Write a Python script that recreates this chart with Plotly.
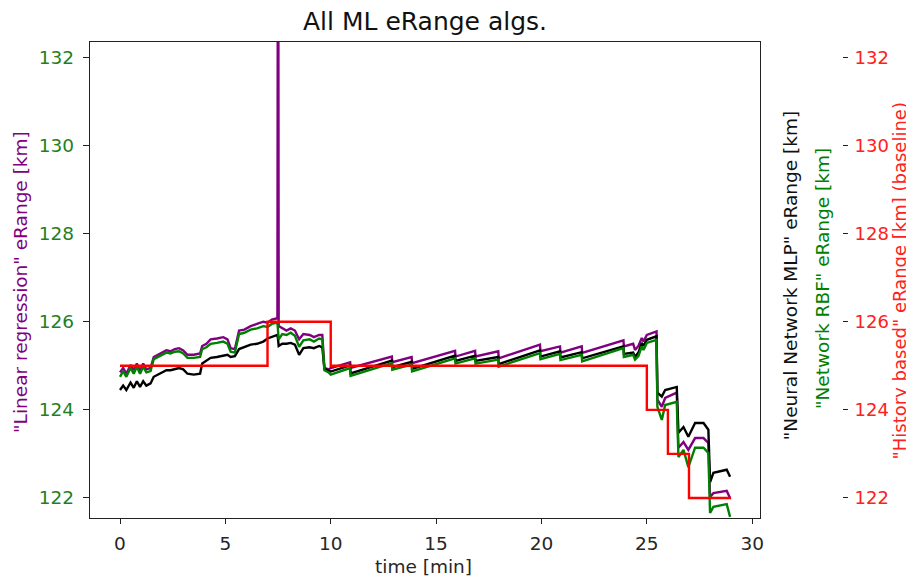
import plotly.graph_objects as go

# ---- data ----
time_ml = [0, 0.15, 0.3, 0.5, 0.65, 0.8, 0.95, 1.1, 1.25, 1.45,
           1.6, 1.8, 2.0, 2.2, 2.4, 2.6, 2.8, 3.0, 3.2, 3.5,
           3.8, 3.9, 4.1, 4.3, 4.6, 4.9, 5.1, 5.25, 5.45, 5.65,
           5.9, 6.2, 6.5, 6.8, 7.0, 7.2, 7.47, 7.5, 7.53, 7.7,
           7.9, 8.1, 8.3, 8.5, 8.7, 9.0, 9.2, 9.45, 9.6, 9.7,
           9.9, 10.0,
           10.92, 10.94, 12.9, 12.92, 13.84, 13.86, 15.9, 15.92, 16.85, 16.87,
           17.95, 17.97, 19.93, 19.95, 20.88, 20.9, 21.91, 21.93, 23.89, 23.91,
           24.35, 24.44, 24.6, 24.76, 24.84, 25.0, 25.46, 25.5, 25.71, 25.87,
           26.42, 26.5, 26.74, 26.97, 27.29, 27.69, 27.92, 28.0, 28.16, 28.79,
           28.95]

linear_regression = [124.85, 124.95, 124.82, 125.02, 124.9, 125.05, 124.88, 125.05, 124.92, 124.95,
                     125.2, 125.25, 125.3, 125.35, 125.33, 125.38, 125.4, 125.35, 125.25, 125.25,
                     125.28, 125.45, 125.5, 125.6, 125.62, 125.65, 125.6, 125.4, 125.38, 125.8,
                     125.82, 125.9, 125.95, 126.0, 125.98, 126.05, 126.08, 140.0, 125.9, 125.85,
                     125.8, 125.85, 125.8, 125.6, 125.72, 125.7, 125.65, 125.7, 125.7, 124.95,
                     124.92, 124.95,
                     125.08, 124.95, 125.21, 125.08, 125.2, 125.06, 125.34, 125.21, 125.34, 125.21,
                     125.33, 125.17, 125.48, 125.33, 125.44, 125.3, 125.44, 125.29, 125.58, 125.44,
                     125.5, 125.36, 125.45, 125.63, 125.55, 125.7, 125.78, 124.23, 124.07, 124.27,
                     124.39, 123.14, 123.27, 123.09, 123.36, 123.36, 123.25, 122.02, 122.11, 122.16,
                     122.0]

network_rbf = [124.75, 124.88, 124.75, 124.95, 124.82, 124.98, 124.82, 124.98, 124.85, 124.88,
               125.15, 125.2, 125.25, 125.3, 125.28, 125.32, 125.33, 125.28, 125.18, 125.18,
               125.2, 125.38, 125.42, 125.5, 125.52, 125.55, 125.5, 125.32, 125.3, 125.72,
               125.75, 125.82, 125.85, 125.9, 125.88, 125.95, 125.98, 125.8, 125.6, 125.72,
               125.7, 125.75, 125.68, 125.43, 125.58, 125.6, 125.55, 125.62, 125.6, 124.9,
               124.85, 124.8,
               124.95, 124.77, 125.06, 124.91, 125.03, 124.87, 125.17, 125.05, 125.17, 125.05,
               125.14, 124.98, 125.29, 125.15, 125.27, 125.13, 125.25, 125.1, 125.4, 125.2,
               125.25, 125.14, 125.22, 125.44, 125.36, 125.52, 125.59, 124.07, 123.77, 124.11,
               124.18, 122.93, 123.09, 122.7, 123.14, 123.14, 123.02, 121.66, 121.8, 121.86,
               121.57]

neural_mlp = [124.45, 124.55, 124.45, 124.62, 124.5, 124.65, 124.52, 124.65, 124.55, 124.6,
              124.75, 124.8, 124.85, 124.9, 124.9, 124.93, 124.95, 124.92, 124.82, 124.8,
              124.82, 125.05, 125.12, 125.18, 125.2, 125.22, 125.25, 125.2, 125.22, 125.38,
              125.42, 125.48, 125.5, 125.55, 125.62, 125.66, 125.7, 125.6, 125.45, 125.5,
              125.5, 125.52, 125.48, 125.25, 125.4, 125.42, 125.4, 125.45, 125.42, 124.93,
              124.9, 124.87,
              125.01, 124.83, 125.12, 124.97, 125.09, 124.93, 125.23, 125.11, 125.23, 125.11,
              125.2, 125.04, 125.35, 125.21, 125.33, 125.19, 125.31, 125.17, 125.44, 125.27,
              125.3, 125.2, 125.3, 125.52, 125.45, 125.59, 125.67, 124.39, 124.3, 124.45,
              124.52, 123.48, 123.61, 123.39, 123.7, 123.7, 123.55, 122.36, 122.57, 122.64,
              122.48]

time_history = [0, 1, 2, 3, 4, 5, 6, 7, 8, 9,
                10, 11, 12, 13, 14, 15, 16, 17, 18, 19,
                20, 21, 22, 23, 24, 25, 26, 27, 28, 29]
history_based = [125, 125, 125, 125, 125, 125, 125, 126, 126, 126,
                 125, 125, 125, 125, 125, 125, 125, 125, 125, 125,
                 125, 125, 125, 125, 125, 124, 123, 122, 122, 122]

x_ticks = [0, 5, 10, 15, 20, 25, 30]
y_ticks = [122, 124, 126, 128, 130, 132]

assert len(time_ml) == len(linear_regression) == len(network_rbf) == len(neural_mlp)
assert len(time_history) == len(history_based)

# ---- figure ----
FONT = "DejaVu Sans"
LW = 2.4
fig = go.Figure()
fig.add_trace(go.Scatter(x=time_ml, y=linear_regression, mode="lines",
                         line=dict(color="#800080", width=LW), yaxis="y"))
fig.add_trace(go.Scatter(x=time_ml, y=neural_mlp, mode="lines",
                         line=dict(color="#000000", width=LW), yaxis="y"))
fig.add_trace(go.Scatter(x=time_ml, y=network_rbf, mode="lines",
                         line=dict(color="#008000", width=LW), yaxis="y"))
fig.add_trace(go.Scatter(x=time_history, y=history_based, mode="lines",
                         line=dict(color="#ff0000", width=LW, shape="hv"), yaxis="y2"))

yrange = [121.545, 132.35]
# the page body adds an 8px offset, so the figure is 8px smaller and shifted
fig.update_layout(
    width=906, height=571,
    margin=dict(l=82, r=72, t=34, b=61, autoexpand=False),
    plot_bgcolor="white", paper_bgcolor="white",
    showlegend=False,
    font=dict(family=FONT, size=18.5, color="#262626"),
    xaxis=dict(domain=[0, 670 / 752], range=[-1.424, 30.37], automargin=False,
               tickvals=x_ticks, ticks="outside", ticklen=5, tickwidth=1.2,
               tickcolor="#222", showline=True, linecolor="#222", linewidth=1.3,
               mirror=True, showgrid=False, zeroline=False,
               tickfont=dict(size=18.5, color="#262626"), ticklabelstandoff=4),
    yaxis=dict(range=yrange, tickvals=y_ticks, ticks="outside", ticklen=6,
               automargin=False,
               tickwidth=1.2, tickcolor="#222", showline=True, linecolor="#222",
               linewidth=1.3, mirror=True, showgrid=False, zeroline=False,
               tickfont=dict(size=18.5, color="#1f801f"), ticklabelstandoff=5),
    yaxis2=dict(range=yrange, tickvals=y_ticks, overlaying="y", side="right",
                anchor="free", position=1.0, ticks="outside", ticklen=5,
                automargin=False,
                tickwidth=1.2, tickcolor="#222", showline=False, showgrid=False,
                zeroline=False, tickfont=dict(size=18, color="#ff2020"),
                ticklabelstandoff=3),
)

ann = [
    dict(text="All ML eRange algs.", x=0.4455, y=1.044, font=dict(size=25, color="#111"),
         textangle=0),
    dict(text="time [min]", x=0.444, y=-0.101, font=dict(size=18.5, color="#262626"),
         textangle=0),
    dict(text='"Linear regression" eRange [km]', x=(21 - 90) / 752, y=0.496,
         font=dict(size=18.5, color="#800080"), textangle=-90),
    dict(text='"Neural Network MLP" eRange [km]', x=(790 - 90) / 752, y=0.508,
         font=dict(size=18.5, color="#111"), textangle=-90),
    dict(text='"Network RBF" eRange [km]', x=(822 - 90) / 752, y=0.502,
         font=dict(size=18.5, color="#008000"), textangle=-90),
    dict(text='"History based" eRange [km] (baseline)', x=(899.5 - 90) / 752, y=0.498,
         font=dict(size=18, color="#ff2020"), textangle=-90),
]
for a in ann:
    fig.add_annotation(xref="paper", yref="paper", showarrow=False,
                       xanchor="center", yanchor="middle", **a)

fig.write_html("out.html")
